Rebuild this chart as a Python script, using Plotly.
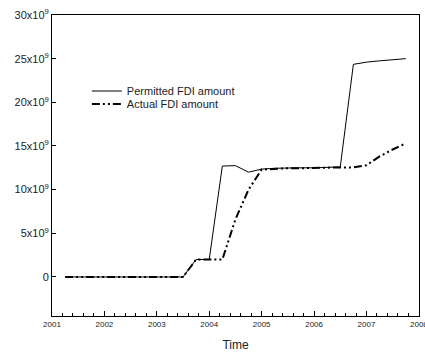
import plotly.graph_objects as go

# quarterly time points
time = [2001.25, 2001.5, 2001.75, 2002.0, 2002.25, 2002.5, 2002.75, 2003.0, 2003.25, 2003.5,
        2003.75, 2004.0, 2004.25, 2004.5, 2004.75, 2005.0, 2005.25, 2005.5, 2005.75, 2006.0,
        2006.25, 2006.5, 2006.75, 2007.0, 2007.25, 2007.5, 2007.75]
permitted = [0, 0, 0, 0, 0, 0, 0, 0, 0, 0,
             2.0, 2.0, 12.7, 12.75, 12.0, 12.35, 12.45, 12.5, 12.5, 12.5,
             12.55, 12.6, 24.35, 24.6, 24.75, 24.85, 25.0]
actual = [0, 0, 0, 0, 0, 0, 0, 0, 0, 0,
          2.0, 2.0, 2.0, 6.6, 10.0, 12.3, 12.4, 12.45, 12.45, 12.5,
          12.5, 12.55, 12.55, 12.8, 13.8, 14.6, 15.3]

ytick_vals = [0, 5, 10, 15, 20, 25, 30]
ytick_text = ["0", "5x10<sup>9</sup>", "10x10<sup>9</sup>", "15x10<sup>9</sup>",
              "20x10<sup>9</sup>", "25x10<sup>9</sup>", "30x10<sup>9</sup>"]
xtick_vals = [2001, 2002, 2003, 2004, 2005, 2006, 2007, 2008]

fig = go.Figure()
fig.add_trace(go.Scatter(x=time, y=permitted, mode="lines", name="Permitted FDI amount",
                         line=dict(color="black", width=1), legend="legend"))
fig.add_trace(go.Scatter(x=time, y=actual, mode="lines", name="Actual FDI amount",
                         line=dict(color="black", width=2, dash="8px,3px,2px,3px,2px,3px"),
                         legend="legend2"))

fam = "Liberation Sans, Arial, sans-serif"
leg_common = dict(xanchor="left", yanchor="middle", bgcolor="rgba(0,0,0,0)",
                  font=dict(size=11, family=fam, color="#222"), itemwidth=30)
fig.update_layout(
    template="none",
    width=425, height=352,
    margin=dict(l=52, r=6, t=15, b=36),
    paper_bgcolor="white", plot_bgcolor="white",
    font=dict(family=fam, color="#222"),
    showlegend=True,
    legend=dict(x=0.095, y=0.7475, **leg_common),
    legend2=dict(x=0.095, y=0.704, **leg_common),
    xaxis=dict(range=[2001, 2008.002], tickvals=xtick_vals, ticktext=[str(v) for v in xtick_vals],
               automargin=False, ticklabeloverflow="allow",
               showgrid=False, zeroline=False, showline=True, linecolor="black", linewidth=1,
               mirror=True, ticks="inside", ticklen=5, tickcolor="black",
               tickfont=dict(size=8, color="#222"), title=dict(text="Time", font=dict(size=12, color="#222")),
               minor=dict(dtick=0.2, tick0=2001, ticks="inside", ticklen=3, tickcolor="black")),
    yaxis=dict(range=[-4.47, 30], tickvals=ytick_vals, ticktext=ytick_text,
               automargin=False, ticklabeloverflow="allow",
               showgrid=False, zeroline=False, showline=True, linecolor="black", linewidth=1,
               mirror=True, ticks="inside", ticklen=4, tickcolor="black",
               tickfont=dict(size=11, color="#222")),
)
fig.write_html("out.html", config={"displayModeBar": False},
               post_script="document.body.style.margin='0';")
